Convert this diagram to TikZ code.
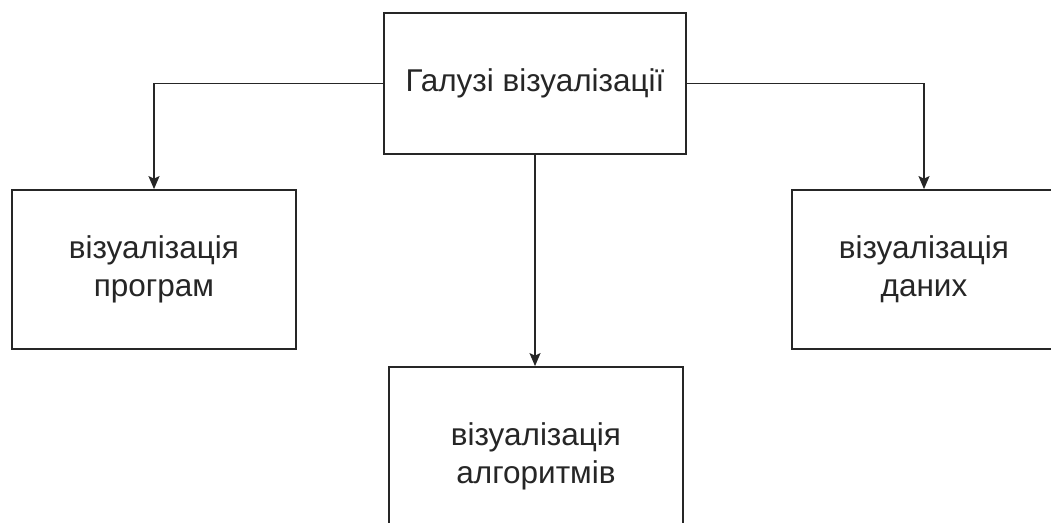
\documentclass[tikz,border=0pt]{standalone}
\usepackage{fontspec}
\setmainfont{Liberation Sans}
\usetikzlibrary{arrows.meta}
\begin{document}
\begin{tikzpicture}[x=1pt,y=-1pt,
  box/.style={draw=black!85, line width=1.8pt, fill=white, inner sep=0pt,
    text=black!85, font=\fontsize{31.5}{38}\selectfont, align=center},
  label/.style={text=black!85, font=\fontsize{31.5}{38}\selectfont, align=center},
  link/.style={draw=black!85, line width=1.6pt,
    -{Stealth[length=13pt,width=11pt,inset=2.5pt]}}]
  \useasboundingbox (0,0) rectangle (1051,522);
  \clip (0,0) rectangle (1051,522);
  % boxes
  \node[box, minimum width=302pt, minimum height=141pt] (root) at (535,83.5) {Галузі візуалізації};
  \node[box, minimum width=284pt, minimum height=159pt] (prog) at (154,269.5) {візуалізація\\програм};
  \node[box, minimum width=264pt, minimum height=159pt] (data) at (924,269.5) {візуалізація\\даних};
  \node[box, minimum width=294pt, minimum height=200pt] (alg) at (536,467) {};
  \node[label] (algtext) at (536,456) {візуалізація\\алгоритмів};
  % connectors
  \draw[link] (root.west) -| (prog.north);
  \draw[link] (root.east) -| (data.north);
  \draw[link] (root.south) -- (root.south |- alg.north);
\end{tikzpicture}
\end{document}
